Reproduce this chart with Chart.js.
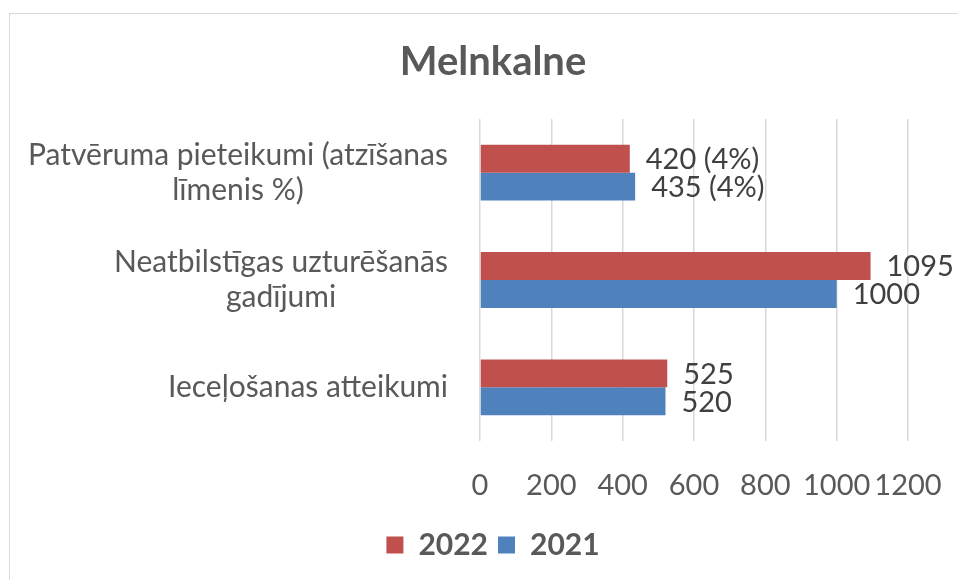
<!DOCTYPE html>
<html>
<head>
    <meta charset="utf-8">
    <title>Melnkalne</title>
    <style>
        body {
            margin: 0;
            padding: 0;
            background-color: #ffffff;
            overflow: hidden;
            font-family: Lato, sans-serif;
        }

        /* chart frame, right and bottom edges fall outside the window */
        .frame {
            position: absolute;
            left: 9px;
            top: 13px;
            width: 1000px;
            height: 620px;
            border: 1px solid #d9d9d9;
        }

        #myChart {
            position: absolute;
            left: 0;
            top: 0;
        }
    </style>
    <script src="https://cdn.jsdelivr.net/npm/chart.js"></script>
    <script>
        // chart data
        const categories = [
            ['Patvēruma pieteikumi (atzīšanas', 'līmenis %)'],
            ['Neatbilstīgas uzturēšanās', 'gadījumi'],
            ['Ieceļošanas atteikumi']
        ];
        const values2022 = [420, 1095, 525];
        const values2021 = [435, 1000, 520];
        const shares2022 = ['4%', null, null];
        const shares2021 = ['4%', null, null];
        const xTicks = [0, 200, 400, 600, 800, 1000, 1200];

        const FONT = 'Lato, sans-serif';

        // the frame is wider than the window, so title and legend sit right of the canvas centre
        const shiftPlugin = {
            id: 'shiftBlocks',
            afterLayout(chart) {
                const mid = 493;
                [chart.titleBlock, chart.legend].forEach(b => {
                    if (!b) return;
                    const d = mid - (b.left + b.right) / 2;
                    b.left += d;
                    b.right += d;
                });
            }
        };

        // category labels: each block right aligned, lines centered inside the block
        const yLabelPlugin = {
            id: 'yLabels',
            afterDraw(chart) {
                const ctx = chart.ctx;
                const yScale = chart.scales.y;
                const right = chart.chartArea.left - 32;
                const lineH = 35;
                ctx.save();
                ctx.font = '30px ' + FONT;
                ctx.fillStyle = '#595959';
                ctx.textAlign = 'center';
                ctx.textBaseline = 'middle';
                categories.forEach((lines, i) => {
                    const y = yScale.getPixelForTick(i);
                    const w = Math.max(...lines.map(l => ctx.measureText(l).width));
                    const cx = right - w / 2;
                    const y0 = y - (lines.length - 1) * lineH / 2;
                    lines.forEach((l, j) => ctx.fillText(l, cx, y0 + j * lineH));
                });
                ctx.restore();
            }
        };

        // value labels to the right of each bar
        const valueLabelPlugin = {
            id: 'valueLabels',
            afterDatasetsDraw(chart) {
                const ctx = chart.ctx;
                const shares = [shares2022, shares2021];
                ctx.save();
                ctx.font = '29px ' + FONT;
                ctx.fillStyle = '#404040';
                ctx.textAlign = 'left';
                ctx.textBaseline = 'middle';
                chart.data.datasets.forEach((ds, di) => {
                    chart.getDatasetMeta(di).data.forEach((bar, i) => {
                        let txt = String(ds.data[i]);
                        if (shares[di][i]) txt += ' (' + shares[di][i] + ')';
                        ctx.fillText(txt, bar.x + 16, bar.y + 1);
                    });
                });
                ctx.restore();
            }
        };

        document.addEventListener("DOMContentLoaded", function() {
            const ctx = document.getElementById('myChart').getContext('2d');
            new Chart(ctx, {
                type: 'bar',
                data: {
                    labels: categories.map(c => c.join(' ')),
                    datasets: [{
                        label: '2022',
                        data: values2022,
                        backgroundColor: '#C0504D',
                        categoryPercentage: 0.52,
                        barPercentage: 1
                    }, {
                        label: '2021',
                        data: values2021,
                        backgroundColor: '#4F81BD',
                        categoryPercentage: 0.52,
                        barPercentage: 1
                    }]
                },
                options: {
                    indexAxis: 'y',
                    responsive: false,
                    animation: false,
                    layout: {
                        padding: { left: 9, right: 50, top: 0, bottom: 10 }
                    },
                    plugins: {
                        title: {
                            display: true,
                            text: 'Melnkalne',
                            color: '#595959',
                            font: { family: FONT, size: 40, weight: 'bold' },
                            padding: { top: 38, bottom: 33 }
                        },
                        legend: {
                            position: 'bottom',
                            labels: {
                                color: '#595959',
                                font: { family: FONT, size: 30, weight: 'bold' },
                                boxWidth: 17,
                                boxHeight: 17,
                                padding: 10
                            }
                        },
                        tooltip: { enabled: false }
                    },
                    scales: {
                        x: {
                            min: 0,
                            max: 1200,
                            afterBuildTicks: scale => {
                                scale.ticks = xTicks.map(v => ({ value: v }));
                            },
                            afterFit: scale => {
                                scale.height = 79;
                                scale.paddingLeft = 0;
                                scale.paddingRight = 0;
                            },
                            grid: {
                                color: '#d9d9d9',
                                lineWidth: 1.5,
                                drawTicks: false
                            },
                            border: { display: false },
                            ticks: {
                                color: '#595959',
                                font: { family: FONT, size: 29 },
                                padding: 27,
                                maxRotation: 0,
                                autoSkip: false,
                                callback: v => String(v)
                            }
                        },
                        y: {
                            afterFit: scale => { scale.width = 480 - 9; },
                            grid: { display: false },
                            border: { display: false },
                            ticks: { color: 'transparent' }
                        }
                    }
                },
                plugins: [shiftPlugin, yLabelPlugin, valueLabelPlugin]
            });
        });
    </script>
</head>
<body>
    <div class="frame"></div>
    <canvas id="myChart" width="958" height="580"></canvas>
</body>
</html>
